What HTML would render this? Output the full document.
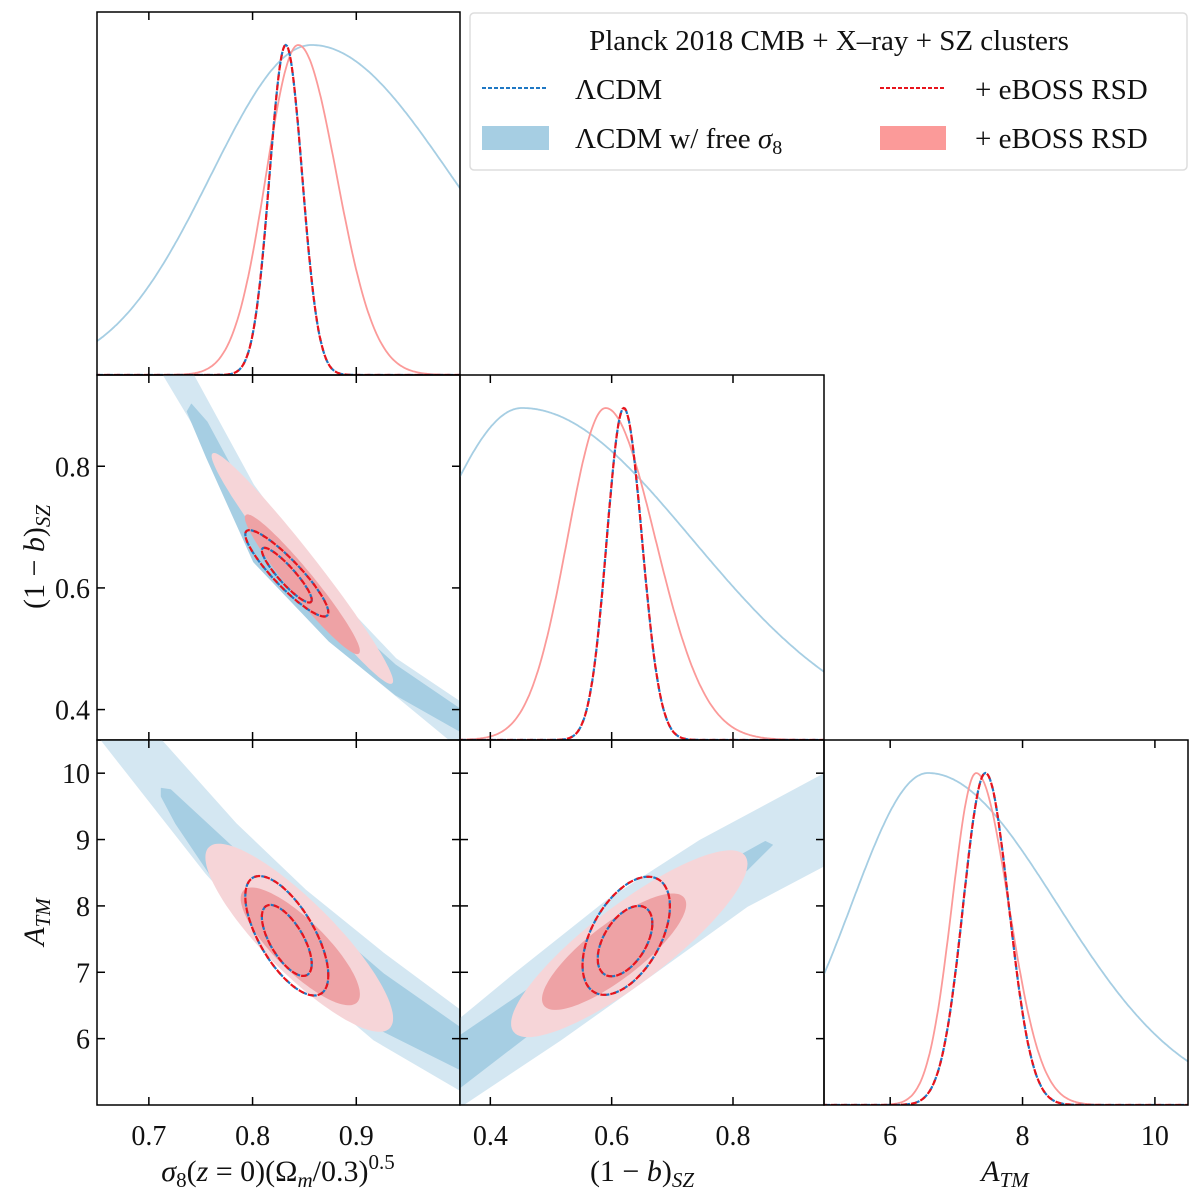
<!DOCTYPE html>
<html><head><meta charset="utf-8"><style>
html,body{margin:0;padding:0;background:#fff;}
svg{display:block;}
text{font-family:"Liberation Serif",serif;fill:#111;}
</style></head><body>
<svg id="chart" width="1200" height="1200" viewBox="0 0 1200 1200" xmlns="http://www.w3.org/2000/svg"></svg>
<script>
// ---- data ----
const s8Range=[0.65,1.0], bRange=[0.35,0.95], aRange=[5,10.5];
const s8Ticks=[0.7,0.8,0.9], s8TickLabels=["0.7","0.8","0.9"];
const bTicks=[0.4,0.6,0.8], bTickLabels=["0.4","0.6","0.8"];
const aTicks=[6,8,10], aTickLabels=["6","8","10"];
const aYTicks=[6,7,8,9,10], aYTickLabels=["6","7","8","9","10"];
// 1D marginals: [peak, sigmaLeft, sigmaRight]
const s8FreeMarg=[0.857,0.097,0.134], s8RsdMarg=[0.844,0.031,0.037], s8LcdmMarg=[0.832,0.0156,0.0158];
const bFreeMarg=[0.452,0.15,0.28], bRsdMarg=[0.590,0.063,0.082], bLcdmMarg=[0.620,0.028,0.030];
const aFreeMarg=[6.57,1.15,1.95], aRsdMarg=[7.30,0.365,0.49], aLcdmMarg=[7.44,0.335,0.35];
// free sigma8 bands (data coords, polygons)
const s8bFreeOuter=[[0.743,0.95],[0.801,0.769],[0.874,0.599],[0.938,0.484],[1.02,0.39],[1.02,0.30],[0.990,0.35],[0.906,0.468],[0.842,0.577],[0.794,0.692],[0.762,0.813],[0.714,0.95],[0.70,1.0],[0.75,1.0]];
const s8bFreeInner=[[0.741,0.902],[0.756,0.873],[0.801,0.731],[0.874,0.572],[0.938,0.473],[1.02,0.378],[1.02,0.345],[0.938,0.424],[0.874,0.512],[0.801,0.643],[0.756,0.813],[0.737,0.890]];
const s8aFreeOuter=[[0.712,10.5],[0.784,9.24],[0.851,8.24],[0.926,7.29],[1.02,6.2],[1.02,5.1],[0.999,5.23],[0.917,5.98],[0.842,6.98],[0.755,8.49],[0.654,10.5],[0.64,11],[0.70,11]];
const s8aFreeInner=[[0.712,9.77],[0.721,9.75],[0.784,8.84],[0.851,7.99],[0.926,6.98],[1.02,5.95],[1.02,5.38],[0.917,6.18],[0.851,6.88],[0.784,7.89],[0.726,9.24],[0.712,9.65]];
const baFreeOuter=[[0.33,6.15],[0.440,6.98],[0.593,8.09],[0.746,8.99],[0.952,10.0],[0.97,10.1],[0.97,8.7],[0.823,7.99],[0.670,6.98],[0.516,5.98],[0.355,5.0],[0.33,4.8]];
const baFreeInner=[[0.33,5.92],[0.516,7.08],[0.670,8.04],[0.853,8.97],[0.865,8.92],[0.823,8.54],[0.670,7.44],[0.516,6.43],[0.33,5.12]];
// Gaussian-like contours: [cx, cy, halfX, halfY, rho]
const s8bRsd95=[0.848,0.632,0.087,0.189,-0.978], s8bRsd68=[0.848,0.606,0.055,0.114,-0.96];
const s8bLcdm95=[0.833,0.624,0.040,0.071,-0.90], s8bLcdm68=[0.833,0.621,0.024,0.045,-0.90];
const s8aRsd95=[0.845,7.52,0.090,1.41,-0.86], s8aRsd68=[0.846,7.39,0.057,0.88,-0.82];
const s8aLcdm95=[0.833,7.55,0.040,0.90,-0.66], s8aLcdm68=[0.833,7.48,0.024,0.535,-0.66];
const baRsd95=[0.629,7.43,0.194,1.40,0.86], baRsd68=[0.604,7.31,0.118,0.87,0.82];
const baLcdm95=[0.624,7.55,0.072,0.89,0.5], baLcdm68=[0.622,7.47,0.045,0.53,0.5];

// ---- layout ----
const NS="http://www.w3.org/2000/svg";
const svg=document.getElementById('chart');
const colX=[97,460,824,1188], rowY=[12,375,740,1105];
const C={lb:"#d4e7f2",db:"#a6cee3",lp:"#f6d5d8",dp:"#eea2a5",line1b:"#a6cee3",line1p:"#fb9a99",dashB:"#1f78c4",dashR:"#e8141c"};
function mk(tag,attrs,parent){const e=document.createElementNS(NS,tag);for(const k in attrs)e.setAttribute(k,attrs[k]);(parent||svg).appendChild(e);return e;}
function lin(d,r){return v=>r[0]+(v-d[0])/(d[1]-d[0])*(r[1]-r[0]);}
let clipId=0;
function panel(ci,ri,name){
  const x0=colX[ci],x1=colX[ci+1],y0=rowY[ri],y1=rowY[ri+1];
  const id='clip'+(clipId++);
  const cp=mk('clipPath',{id:id});
  mk('rect',{x:x0,y:y0,width:x1-x0,height:y1-y0},cp);
  const g=mk('g',{'clip-path':'url(#'+id+')'});
  
  
  return {g,x0,x1,y0,y1};
}
function poly(p,pts,fx,fy,fill,name){
  const d=pts.map((q,i)=>(i?'L':'M')+fx(q[0]).toFixed(1)+','+fy(q[1]).toFixed(1)).join('')+'Z';
  const e=mk('path',{d:d,fill:fill,stroke:fill,'stroke-width':1,'stroke-linejoin':'round'},p.g);
  
  
}
function ellPts(E){const pts=[];const s=Math.sqrt(1-E[4]*E[4]);for(let i=0;i<=120;i++){const t=i/120*2*Math.PI;pts.push([E[0]+E[2]*Math.cos(t),E[1]+E[3]*(E[4]*Math.cos(t)+s*Math.sin(t))]);}return pts;}
function ellipse(p,E,fx,fy,fill,name){poly(p,ellPts(E),fx,fy,fill,name);}
function dashedEll(p,E,fx,fy,name){
  const pts=ellPts(E);
  const d=pts.map((q,i)=>(i?'L':'M')+fx(q[0]).toFixed(1)+','+fy(q[1]).toFixed(1)).join('')+'Z';
  const b=mk('path',{d:d,fill:'none',stroke:C.dashB,'stroke-width':2.2,'stroke-dasharray':'6 4'},p.g);
  
  
  const r=mk('path',{d:d,fill:'none',stroke:C.dashR,'stroke-width':2.2,'stroke-dasharray':'6 4','stroke-dashoffset':3},p.g);
  
  
}
function marg(p,M,range,fx,color,dashed,name,offset){
  const fy=lin([0,1],[p.y1,p.y0+33]);
  let d='';
  for(let i=0;i<=300;i++){const v=range[0]+(range[1]-range[0])*i/300;const s=v<M[0]?M[1]:M[2];const y=Math.exp(-0.5*Math.pow((v-M[0])/s,2));d+=(i?'L':'M')+fx(v).toFixed(1)+','+fy(y).toFixed(1);}
  const a={d:d,fill:'none',stroke:color,'stroke-width':dashed?2.2:1.8};
  if(dashed){a['stroke-dasharray']='6 4';a['stroke-dashoffset']=offset||0;}
  const e=mk('path',a,p.g);
  
  
}
function frame(p,name,xt,fx,yt,fy,xLabels,yLabels){
  const f=mk('rect',{x:p.x0,y:p.y0,width:p.x1-p.x0,height:p.y1-p.y0,fill:'none',stroke:'#000','stroke-width':1.5});
  
  
  if(xt){xt.forEach((t,i)=>{const x=fx(t);
    mk('line',{x1:x,x2:x,y1:p.y1,y2:p.y1-8,stroke:'#000','stroke-width':1.5});
    mk('line',{x1:x,x2:x,y1:p.y0,y2:p.y0+8,stroke:'#000','stroke-width':1.5});
    if(xLabels){const tx=mk('text',{x:x,y:p.y1+40,'text-anchor':'middle','font-size':28});tx.textContent=xLabels[i];
      
      }
  });}
  if(yt){yt.forEach((t,i)=>{const y=fy(t);
    mk('line',{x1:p.x0,x2:p.x0+8,y1:y,y2:y,stroke:'#000','stroke-width':1.5});
    mk('line',{x1:p.x1,x2:p.x1-8,y1:y,y2:y,stroke:'#000','stroke-width':1.5});
    if(yLabels){const tx=mk('text',{x:p.x0-7,y:y+10,'text-anchor':'end','font-size':28});tx.textContent=yLabels[i];
      
      }
  });}
}
const Xs8=lin(s8Range,[colX[0],colX[1]]), Xb=lin(bRange,[colX[1],colX[2]]), Xa=lin(aRange,[colX[2],colX[3]]);
const Yb=lin(bRange,[rowY[2],rowY[1]]), Ya=lin(aRange,[rowY[3],rowY[2]]);

let p=panel(0,0,'sigma8-marginal');
marg(p,s8FreeMarg,s8Range,Xs8,C.line1b,false,'sigma8-free-curve');
marg(p,s8RsdMarg,s8Range,Xs8,C.line1p,false,'sigma8-rsd-curve');
marg(p,s8LcdmMarg,s8Range,Xs8,C.dashB,true,'sigma8-lcdm-curve',0);
marg(p,s8LcdmMarg,s8Range,Xs8,C.dashR,true,'sigma8-lcdm-rsd-curve',3);
frame(p,'sigma8-marginal',s8Ticks,Xs8,null,null,null,null);

p=panel(0,1,'sigma8-vs-b-panel');
poly(p,s8bFreeOuter,Xs8,Yb,C.lb,'free-95-contour');
poly(p,s8bFreeInner,Xs8,Yb,C.db,'free-68-contour');
ellipse(p,s8bRsd95,Xs8,Yb,C.lp,'rsd-95-contour');
ellipse(p,s8bRsd68,Xs8,Yb,C.dp,'rsd-68-contour');
dashedEll(p,s8bLcdm95,Xs8,Yb,'lcdm-95-contour');
dashedEll(p,s8bLcdm68,Xs8,Yb,'lcdm-68-contour');
frame(p,'sigma8-vs-b-panel',s8Ticks,Xs8,bTicks,Yb,null,bTickLabels);

p=panel(1,1,'b-marginal');
marg(p,bFreeMarg,bRange,Xb,C.line1b,false,'b-free-curve');
marg(p,bRsdMarg,bRange,Xb,C.line1p,false,'b-rsd-curve');
marg(p,bLcdmMarg,bRange,Xb,C.dashB,true,'b-lcdm-curve',0);
marg(p,bLcdmMarg,bRange,Xb,C.dashR,true,'b-lcdm-rsd-curve',3);
frame(p,'b-marginal',bTicks,Xb,null,null,null,null);

p=panel(0,2,'sigma8-vs-atm-panel');
poly(p,s8aFreeOuter,Xs8,Ya,C.lb,'free-95-contour');
poly(p,s8aFreeInner,Xs8,Ya,C.db,'free-68-contour');
ellipse(p,s8aRsd95,Xs8,Ya,C.lp,'rsd-95-contour');
ellipse(p,s8aRsd68,Xs8,Ya,C.dp,'rsd-68-contour');
dashedEll(p,s8aLcdm95,Xs8,Ya,'lcdm-95-contour');
dashedEll(p,s8aLcdm68,Xs8,Ya,'lcdm-68-contour');
frame(p,'sigma8-vs-atm-panel',s8Ticks,Xs8,aYTicks,Ya,s8TickLabels,aYTickLabels);

p=panel(1,2,'b-vs-atm-panel');
poly(p,baFreeOuter,Xb,Ya,C.lb,'free-95-contour');
poly(p,baFreeInner,Xb,Ya,C.db,'free-68-contour');
ellipse(p,baRsd95,Xb,Ya,C.lp,'rsd-95-contour');
ellipse(p,baRsd68,Xb,Ya,C.dp,'rsd-68-contour');
dashedEll(p,baLcdm95,Xb,Ya,'lcdm-95-contour');
dashedEll(p,baLcdm68,Xb,Ya,'lcdm-68-contour');
frame(p,'b-vs-atm-panel',bTicks,Xb,aYTicks,Ya,bTickLabels,null);

p=panel(2,2,'atm-marginal');
marg(p,aFreeMarg,aRange,Xa,C.line1b,false,'atm-free-curve');
marg(p,aRsdMarg,aRange,Xa,C.line1p,false,'atm-rsd-curve');
marg(p,aLcdmMarg,aRange,Xa,C.dashB,true,'atm-lcdm-curve',0);
marg(p,aLcdmMarg,aRange,Xa,C.dashR,true,'atm-lcdm-rsd-curve',3);
frame(p,'atm-marginal',aTicks,Xa,null,null,aTickLabels,null);
</script>
<svg style="position:absolute;left:0;top:0" width="1200" height="1200">
  <text x="278" y="1181" text-anchor="middle" font-size="30" font-family="Liberation Serif"><tspan font-style="italic">σ</tspan><tspan font-size="21" dy="6">8</tspan><tspan dy="-6">(</tspan><tspan font-style="italic">z</tspan> = 0)(Ω<tspan font-size="21" font-style="italic" dy="6">m</tspan><tspan dy="-6">/0.3)</tspan><tspan font-size="21" dy="-12">0.5</tspan></text>
  <text x="642" y="1181" text-anchor="middle" font-size="30" font-family="Liberation Serif">(1 − <tspan font-style="italic">b</tspan>)<tspan font-size="21" font-style="italic" dy="6">SZ</tspan></text>
  <text x="1005" y="1181" text-anchor="middle" font-size="30" font-family="Liberation Serif"><tspan font-style="italic">A</tspan><tspan font-size="21" font-style="italic" dy="6">TM</tspan></text>
  <text transform="translate(44,557) rotate(-90)" text-anchor="middle" font-size="30" font-family="Liberation Serif">(1 − <tspan font-style="italic">b</tspan>)<tspan font-size="21" font-style="italic" dy="6">SZ</tspan></text>
  <text transform="translate(44,922) rotate(-90)" text-anchor="middle" font-size="30" font-family="Liberation Serif"><tspan font-style="italic">A</tspan><tspan font-size="21" font-style="italic" dy="6">TM</tspan></text>
  <g>
    <rect x="470" y="13" width="717" height="157" rx="4" fill="#fff" stroke="#ddd" stroke-width="1.5"/>
    <text x="829" y="50" text-anchor="middle" font-size="29" font-family="Liberation Serif">Planck 2018 CMB + X–ray + SZ clusters</text>
    <line x1="482" y1="88" x2="548" y2="88" stroke="#1f78c4" stroke-width="2" stroke-dasharray="4 2"/>
    <text x="575" y="99" font-size="29" font-family="Liberation Serif">ΛCDM</text>
    <line x1="880" y1="88" x2="945" y2="88" stroke="#e8141c" stroke-width="2" stroke-dasharray="4 2"/>
    <text x="975" y="99" font-size="29" font-family="Liberation Serif">+ eBOSS RSD</text>
    <rect x="482" y="126" width="67" height="24" fill="#a6cee3"/>
    <text x="575" y="148" font-size="29" font-family="Liberation Serif">ΛCDM w/ free <tspan font-style="italic">σ</tspan><tspan font-size="20" dy="6">8</tspan></text>
    <rect x="880" y="126" width="66" height="24" fill="#fb9a99"/>
    <text x="975" y="148" font-size="29" font-family="Liberation Serif">+ eBOSS RSD</text>
  </g>
</svg>
</body></html>
